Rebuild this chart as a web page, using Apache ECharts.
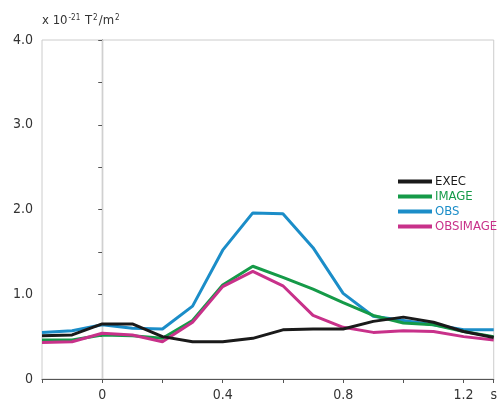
<!DOCTYPE html>
<html><head><meta charset="utf-8">
<script src="https://cdn.jsdelivr.net/npm/echarts@6/dist/echarts.min.js"></script>
<style>html,body{margin:0;padding:0;background:#fff}#c{width:500px;height:405px}</style>
</head><body><div id="c"></div>
<script>
var times = [-0.2,-0.1,0,0.1,0.2,0.3,0.4,0.5,0.6,0.7,0.8,0.9,1.0,1.1,1.2,1.3];
var seriesNames = ['EXEC','IMAGE','OBS','OBSIMAGE'];
var execVals     = [0.51,0.52,0.65,0.65,0.50,0.44,0.44,0.48,0.58,0.59,0.59,0.68,0.73,0.67,0.56,0.49];
var imageVals    = [0.46,0.46,0.52,0.51,0.48,0.69,1.11,1.33,1.20,1.06,0.90,0.75,0.66,0.64,0.56,0.50];
var obsVals      = [0.55,0.57,0.64,0.60,0.59,0.86,1.52,1.96,1.95,1.55,1.01,0.74,0.69,0.64,0.58,0.58];
var obsImageVals = [0.43,0.44,0.54,0.52,0.44,0.67,1.09,1.27,1.10,0.75,0.61,0.55,0.57,0.56,0.50,0.46];
var xLabels = {'0':'0','0.4':'0.4','0.8':'0.8','1.2':'1.2','1.3':'s'};
var yLabels = {'0':'0','1':'1.0','2':'2.0','3':'3.0','4':'4.0'};
var colors = ['#1a1a1a','#159a48','#1b8dc8','#c8318a'];
var FONT = '"DejaVu Sans Condensed","Liberation Sans Narrow",sans-serif';

function pairs(v){ return times.map(function(t,i){return [t,v[i]];}); }
var allVals = [execVals,imageVals,obsVals,obsImageVals];

var chart = echarts.init(document.getElementById('c'));
var series = seriesNames.map(function(n,i){
  var s = {name:n,type:'line',data:pairs(allVals[i]),symbol:'none',
    lineStyle:{color:colors[i],width:3},itemStyle:{color:colors[i]},animation:false};
  if(i===0){
    s.markLine={silent:true,symbol:'none',label:{show:false},animation:false,z:1,
      lineStyle:{color:'#d0d0d0',width:1,type:'solid'},data:[{xAxis:0}]};
  }
  return s;
});
series[0].z=14; series[1].z=12; series[2].z=11; series[3].z=13;

chart.setOption({
  animation:false,
  grid:{left:42,right:4,top:40,bottom:26,show:true,borderColor:'#cccccc',borderWidth:1},
  legend:{orient:'vertical',left:398,top:174,padding:0,itemWidth:34,itemHeight:4,itemGap:0,
    icon:'rect',
    textStyle:{fontFamily:FONT,fontSize:13,lineHeight:15,padding:[0,0,0,-2]},
    data:seriesNames.map(function(n,i){return {name:n,textStyle:{color:colors[i]}};})},
  xAxis:{type:'value',min:-0.2,max:1.3,interval:0.2,
    axisLine:{lineStyle:{color:'#555',width:1.2}},
    axisTick:{show:true,length:4,lineStyle:{color:'#555'}},
    splitLine:{show:false},
    axisLabel:{color:'#333',fontFamily:FONT,fontSize:14,margin:9,showMaxLabel:true,
      formatter:function(v){var k=String(Math.round(v*10)/10);return xLabels[k]||'';}}},
  yAxis:{type:'value',min:0,max:4,interval:0.5,
    axisLine:{show:true,lineStyle:{color:'#555',width:1.2}},
    axisTick:{show:true,length:4,lineStyle:{color:'#555'}},
    splitLine:{show:false},
    axisLabel:{color:'#333',fontFamily:FONT,fontSize:14,margin:9,
      formatter:function(v){var k=String(Math.round(v*10)/10);return yLabels[k]||'';}}},
  graphic:[{type:'text',left:42,top:14,style:{
    text:'x 10{sup|-21} T{sup|2}/m{sup|2}',
    fontFamily:FONT,fontSize:13,fill:'#333',
    rich:{sup:{fontSize:8,verticalAlign:'top',padding:[0,1,6,1],fill:'#333',fontFamily:FONT}}}}],
  series:series
});
</script></body></html>
